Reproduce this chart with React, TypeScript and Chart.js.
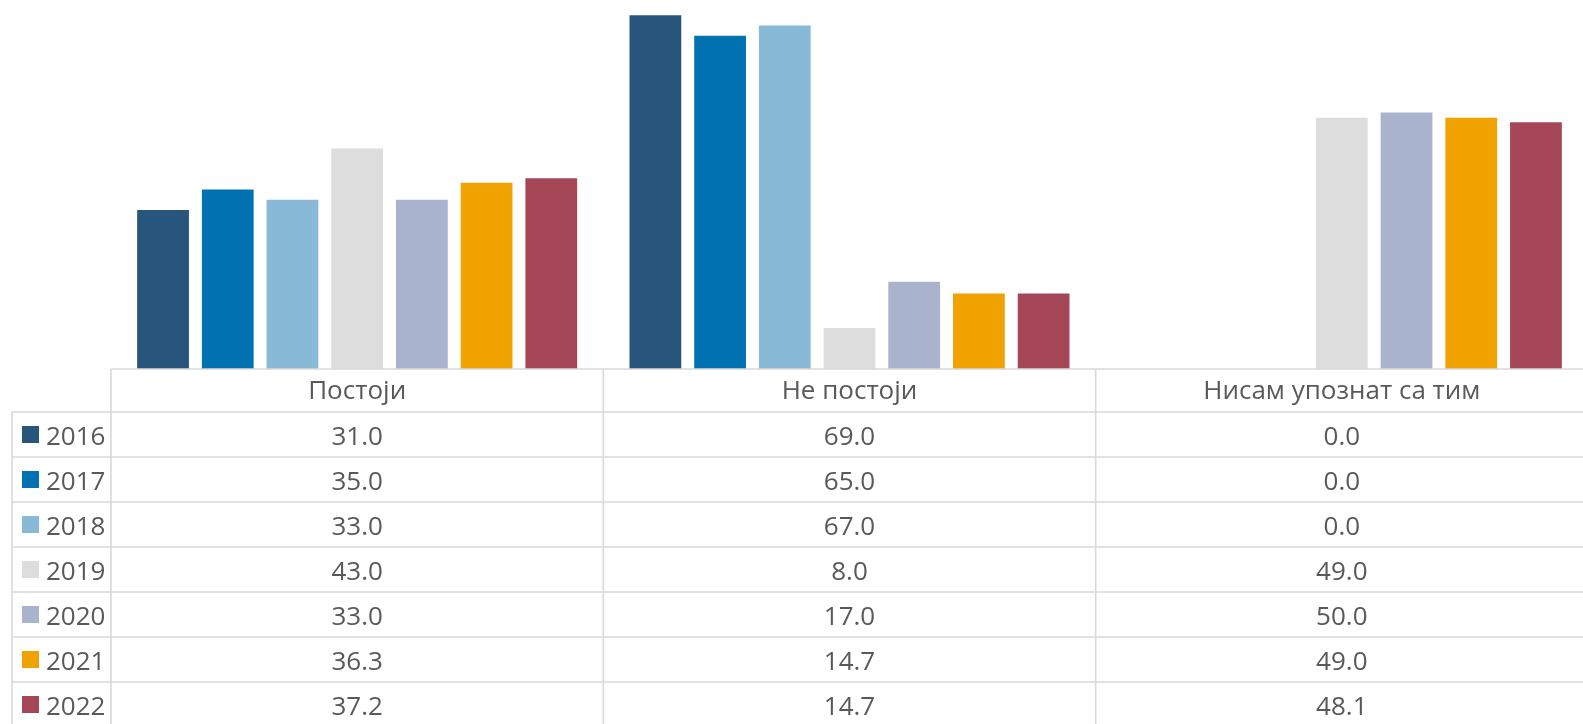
import React, { useEffect, useRef } from "react";
import { Chart, registerables } from "chart.js";
Chart.register(...registerables);

const categories = ["Постоји", "Не постоји", "Нисам упознат са тим"];
const years = ["2016", "2017", "2018", "2019", "2020", "2021", "2022"];
const values2016 = [31.0, 69.0, 0.0];
const values2017 = [35.0, 65.0, 0.0];
const values2018 = [33.0, 67.0, 0.0];
const values2019 = [43.0, 8.0, 49.0];
const values2020 = [33.0, 17.0, 50.0];
const values2021 = [36.3, 14.7, 49.0];
const values2022 = [37.2, 14.7, 48.1];
const seriesValues = [values2016, values2017, values2018, values2019, values2020, values2021, values2022];
const colors = ["#27557C", "#0072B1", "#88BAD8", "#DDDDDD", "#AAB3CE", "#F0A200", "#A44656"];

const W = 1588;
const H = 724;
const FONT = "26px 'Open Sans'";
const TEXT = "#595959";
const LINE = "#D9D9D9";

const tablePlugin = {
  id: "dataTable",
  afterDraw(chart: any) {
    const ctx = chart.ctx as CanvasRenderingContext2D;
    const xs = chart.scales.x;
    const area = chart.chartArea;
    const top = area.bottom;
    const headerH = 43;
    const rowH = 45;
    const legendLeft = xs.left - 99;
    const n = categories.length;
    const catW = (xs.right - xs.left) / n;
    const bottom = H + 10;
    ctx.save();
    ctx.strokeStyle = LINE;
    ctx.lineWidth = 1.6;
    ctx.beginPath();
    ctx.moveTo(xs.left, top);
    ctx.lineTo(W, top);
    for (let k = 0; k <= years.length; k++) {
      const y = top + headerH + k * rowH;
      ctx.moveTo(legendLeft, y);
      ctx.lineTo(W, y);
    }
    ctx.moveTo(legendLeft, top + headerH);
    ctx.lineTo(legendLeft, bottom);
    for (let i = 0; i <= n; i++) {
      const bx = xs.left + i * catW;
      ctx.moveTo(bx, top);
      ctx.lineTo(bx, bottom);
    }
    ctx.stroke();

    ctx.font = FONT;
    ctx.fillStyle = TEXT;
    ctx.textAlign = "center";
    ctx.textBaseline = "alphabetic";
    categories.forEach((c, i) => {
      const cx = xs.getPixelForValue(i);
      ctx.fillText(c, cx, top + 30);
    });
    years.forEach((yr, r) => {
      const rowTop = top + headerH + r * rowH;
      const cy = rowTop + rowH / 2;
      ctx.fillStyle = colors[r];
      ctx.fillRect(legendLeft + 10, cy - 8.5, 17, 17);
      ctx.fillStyle = TEXT;
      ctx.textAlign = "left";
      ctx.fillText(yr, legendLeft + 34, rowTop + 33);
      ctx.textAlign = "center";
      seriesValues[r].forEach((v, i) => {
        ctx.fillText(v.toFixed(1), xs.getPixelForValue(i), rowTop + 33);
      });
    });
    ctx.restore();
  },
};

export default function App() {
  const ref = useRef<HTMLCanvasElement>(null);
  useEffect(() => {
    if (!ref.current) return;
    const chart = new Chart(ref.current, {
      type: "bar",
      data: {
        labels: categories,
        datasets: years.map((yr, i) => ({
          label: yr,
          data: seriesValues[i],
          backgroundColor: colors[i],
          borderWidth: 0,
          categoryPercentage: 0.92,
          barPercentage: 0.8,
        })),
      },
      options: {
        responsive: false,
        animation: false,
        devicePixelRatio: 1,
        layout: { padding: { left: 111, right: 0, top: 10, bottom: H - 369 } },
        plugins: { legend: { display: false }, tooltip: { enabled: false } },
        scales: {
          x: { display: false },
          y: { display: false, min: 0, max: 70 },
        },
      },
      plugins: [tablePlugin],
    });
    return () => chart.destroy();
  }, []);
  return (
    <div style={{ position: "fixed", left: 0, top: 0, width: 1583, height: 724, overflow: "hidden", background: "#fff" }}>
      <canvas ref={ref} width={W} height={H} style={{ width: W, height: H, display: "block" }} />
    </div>
  );
}
